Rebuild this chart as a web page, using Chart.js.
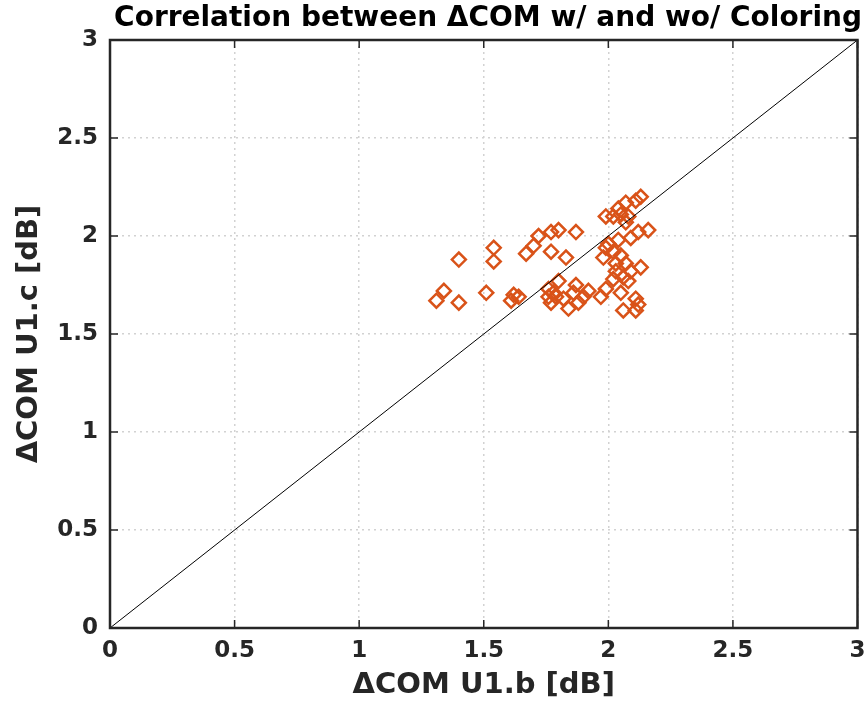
<!DOCTYPE html>
<html>
<head>
<meta charset="utf-8">
<title>Correlation between ΔCOM w/ and wo/ Coloring</title>
<script src="https://cdn.jsdelivr.net/npm/chart.js@4.4.1/dist/chart.umd.min.js"></script>
<style>
  html, body { margin: 0; padding: 0; background: #fff; }
</style>
</head>
<body>
<canvas id="CorrChart" width="867" height="704"></canvas>
<script>
// delta COM without coloring (U1.b) and with coloring (U1.c), in dB
var comU1b = [
  1.31, 1.34, 1.40, 1.40, 1.51, 1.54, 1.54, 1.61, 1.62, 1.64,
  1.67, 1.70, 1.72, 1.77, 1.80, 1.87, 1.77, 1.83, 1.76, 1.78,
  1.76, 1.79, 1.77, 1.80, 1.82, 1.86, 1.84, 1.88, 1.90, 1.92,
  1.87, 1.97, 1.99, 2.02, 1.99, 1.98, 2.04, 2.07, 2.11, 2.13,
  2.08, 2.07, 2.05, 2.16, 2.12, 2.09, 2.04, 2.00, 2.02, 2.05,
  2.03, 2.07, 2.13, 2.03, 2.09, 2.06, 2.02, 2.08, 1.99, 2.05,
  2.11, 2.12, 2.06, 2.11
];
var comU1c = [
  1.67, 1.72, 1.66, 1.88, 1.71, 1.94, 1.87, 1.67, 1.70, 1.69,
  1.91, 1.95, 2.00, 2.02, 2.03, 2.02, 1.92, 1.89, 1.73, 1.71,
  1.69, 1.69, 1.66, 1.77, 1.68, 1.71, 1.63, 1.66, 1.69, 1.72,
  1.75, 1.69, 2.10, 2.10, 1.94, 1.89, 2.14, 2.17, 2.18, 2.20,
  2.10, 2.07, 2.11, 2.03, 2.02, 1.99, 1.98, 1.96, 1.92, 1.90,
  1.86, 1.86, 1.84, 1.82, 1.82, 1.79, 1.78, 1.77, 1.73, 1.71,
  1.68, 1.65, 1.62, 1.62
];
// y = x reference line
var identityLine = [0, 3];
var axisTicks = [0, 0.5, 1, 1.5, 2, 2.5, 3];

var INK = '#262626';
var tickFont = { family: 'DejaVu Sans', size: 23, weight: 'bold' };
var labelFont = { family: 'DejaVu Sans', size: 29, weight: 'bold' };

var points = comU1b.map(function (x, i) {
  return { x: x, y: comU1c[i] };
});

// box around the axes with inward ticks on all four sides
var frameBox = {
  id: 'frameBox',
  afterDatasetsDraw: function (chart) {
    var a = chart.chartArea;
    var ctx = chart.ctx;
    var xs = chart.scales.x;
    var ys = chart.scales.y;
    ctx.save();
    ctx.strokeStyle = INK;
    ctx.lineWidth = 1.5;
    ctx.beginPath();
    axisTicks.forEach(function (t) {
      var px = xs.getPixelForValue(t);
      var py = ys.getPixelForValue(t);
      ctx.moveTo(px, a.bottom); ctx.lineTo(px, a.bottom - 8);
      ctx.moveTo(px, a.top); ctx.lineTo(px, a.top + 8);
      ctx.moveTo(a.left, py); ctx.lineTo(a.left + 8, py);
      ctx.moveTo(a.right, py); ctx.lineTo(a.right - 8, py);
    });
    ctx.stroke();
    ctx.lineWidth = 2.5;
    ctx.strokeRect(a.left, a.top, a.right - a.left, a.bottom - a.top);
    ctx.restore();
  }
};

function fixedTicks(scale) {
  scale.ticks = axisTicks.map(function (v) { return { value: v }; });
}

function plainLabel(value) {
  return String(value);
}

var config = {
  data: {
    datasets: [{
      type: 'scatter',
      label: 'ΔCOM',
      data: points,
      pointStyle: 'rectRot',
      pointRadius: 7,
      pointBorderWidth: 2.5,
      borderColor: '#D95319',
      backgroundColor: 'rgba(0,0,0,0)',
      order: 2
    }, {
      type: 'line',
      label: 'y = x',
      data: identityLine.map(function (v) { return { x: v, y: v }; }),
      borderColor: '#000',
      borderWidth: 1,
      pointRadius: 0,
      fill: false,
      order: 1
    }]
  },
  options: {
    responsive: false,
    animation: false,
    layout: { padding: { left: 0, right: 5, top: 0, bottom: 0 } },
    plugins: {
      legend: { display: false },
      tooltip: { enabled: false },
      title: {
        display: true,
        text: 'Correlation between ΔCOM w/ and wo/ Coloring',
        align: 'end',
        color: '#000',
        font: { family: 'DejaVu Sans', size: 28, weight: 'bold' },
        padding: { top: 2, bottom: 4.4 }
      }
    },
    scales: {
      x: {
        type: 'linear',
        min: 0,
        max: 3,
        afterBuildTicks: fixedTicks,
        afterFit: function (scale) {
          scale.height = 76;
          scale.paddingLeft = 0;
          scale.paddingRight = 0;
        },
        grid: { color: '#d2d2d2', lineWidth: 1.5, drawTicks: false },
        border: { display: false, dash: [2, 4] },
        ticks: { color: INK, font: tickFont, padding: 9, maxRotation: 0, callback: plainLabel },
        title: {
          display: true,
          text: 'ΔCOM U1.b [dB]',
          color: INK,
          font: labelFont,
          padding: { top: 0, bottom: 1 }
        }
      },
      y: {
        type: 'linear',
        min: 0,
        max: 3,
        afterBuildTicks: fixedTicks,
        afterFit: function (scale) {
          scale.width = 110;
          scale.paddingTop = 0;
          scale.paddingBottom = 0;
        },
        grid: { color: '#d2d2d2', lineWidth: 1.5, drawTicks: false },
        border: { display: false, dash: [2, 4] },
        ticks: { color: INK, font: tickFont, padding: 12, callback: plainLabel },
        title: {
          display: true,
          text: 'ΔCOM U1.c [dB]',
          color: INK,
          font: labelFont,
          padding: { top: 12, bottom: 0 }
        }
      }
    }
  },
  plugins: [frameBox]
};

var ctx = document.getElementById('CorrChart').getContext('2d');
window.corrChart = new Chart(ctx, config);
</script>
</body>
</html>
